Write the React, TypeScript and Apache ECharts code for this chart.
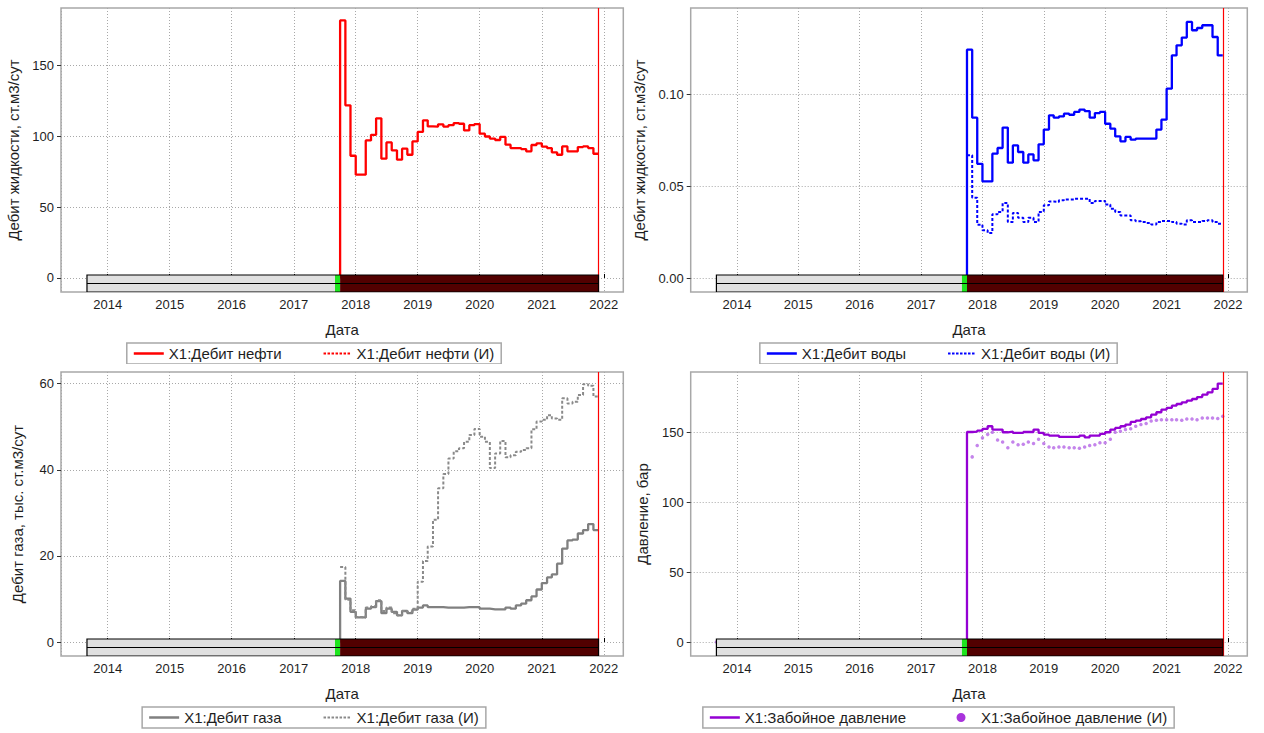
import React, { useEffect, useRef } from 'react';
import * as echarts from 'echarts';

// ---------- data ----------
const months = [
  '2017-10', '2017-11', '2017-12',
  '2018-01', '2018-02', '2018-03', '2018-04', '2018-05', '2018-06', '2018-07', '2018-08', '2018-09', '2018-10', '2018-11', '2018-12',
  '2019-01', '2019-02', '2019-03', '2019-04', '2019-05', '2019-06', '2019-07', '2019-08', '2019-09', '2019-10', '2019-11', '2019-12',
  '2020-01', '2020-02', '2020-03', '2020-04', '2020-05', '2020-06', '2020-07', '2020-08', '2020-09', '2020-10', '2020-11', '2020-12',
  '2021-01', '2021-02', '2021-03', '2021-04', '2021-05', '2021-06', '2021-07', '2021-08', '2021-09', '2021-10', '2021-11',
];
const endMonth = '2021-12';

const oilTicks = [0, 50, 100, 150];
const waterTicks = [0, 0.05, 0.1];
const gasTicks = [0, 20, 40, 60];
const bhpTicks = [0, 50, 100, 150];

const oilRate = [
  182, 122, 86.4,
  73, 73, 97.2, 101.2, 112.8, 84.3, 95.8, 90.2, 83.6, 91.4, 87.1, 96.5,
  103.2, 111.4, 107.1, 107, 108.6, 107, 108, 109.5, 109, 104.3, 108, 108.8,
  102, 100, 98.5, 97.5, 99.7, 94.2, 91.8, 91.8, 91.1, 89.5, 94, 95.2,
  92.9, 91.8, 88.8, 87.1, 93, 89.5, 89.5, 92.5, 93, 91.8, 87.8,
];
const oilRateHist: number[] = [];

const waterRate = [
  0.1243, 0.0873, 0.0622,
  0.0526, 0.0526, 0.0677, 0.0708, 0.0819, 0.0628, 0.0722, 0.0686, 0.0628, 0.0673, 0.0641, 0.0728,
  0.0808, 0.0886, 0.0873, 0.088, 0.0895, 0.0889, 0.0904, 0.0917, 0.0909, 0.0873, 0.0898, 0.0904,
  0.084, 0.0813, 0.0771, 0.0744, 0.0768, 0.0753, 0.0759, 0.0759, 0.0759, 0.0759, 0.0808, 0.0862,
  0.1031, 0.1212, 0.1267, 0.1309, 0.1394, 0.1349, 0.1361, 0.1376, 0.1376, 0.1312, 0.1212,
];
const waterRateHist = [
  0.0668, 0.0437, 0.029,
  0.026, 0.0245, 0.0347, 0.036, 0.0408, 0.0305, 0.0354, 0.0328, 0.0305, 0.0328, 0.0305, 0.036,
  0.0396, 0.0417, 0.0414, 0.0423, 0.0428, 0.0428, 0.0432, 0.0432, 0.0432, 0.0408, 0.0419, 0.0419,
  0.0401, 0.0377, 0.036, 0.0341, 0.0341, 0.0314, 0.0309, 0.0305, 0.03, 0.0292, 0.0305, 0.031,
  0.031, 0.0305, 0.0296, 0.0292, 0.0314, 0.0305, 0.0305, 0.031, 0.0314, 0.0305, 0.0296,
];

const gasRate = [
  14.2, 10.1, 7.0,
  5.7, 5.7, 7.75, 8.1, 9.5, 6.7, 7.75, 7.0, 6.2, 7.2, 6.7, 7.5,
  8.0, 8.5, 8.1, 8.1, 8.1, 8.0, 8.0, 8.0, 8.0, 8.1, 8.1, 8.1,
  7.75, 7.75, 7.6, 7.6, 7.6, 8.0, 7.75, 8.5, 8.9, 9.7, 10.6, 12.2,
  13.7, 15.0, 15.7, 18.2, 21.7, 23.6, 23.8, 25.2, 26.0, 27.4, 26.0,
];
const gasRateHist = [
  17.4, 9.8, 7.4,
  5.8, 5.7, 8.0, 8.3, 9.7, 7.2, 8.0, 6.7, 6.2, 7.2, 7.0, 7.75,
  14.0, 18.8, 22.2, 28.4, 35.7, 39.0, 42.6, 44.3, 45.0, 46.5, 48.1, 49.5,
  47.7, 46.5, 40.4, 43.8, 46.7, 42.9, 43.4, 44.2, 44.6, 45.0, 49.4, 51.2,
  51.6, 52.7, 51.9, 51.6, 56.6, 55.4, 55.8, 57.4, 59.9, 59.5, 57.0,
];

const bhp = [
  150.2, 150.5, 151.2,
  152.4, 154.3, 151.9, 151.9, 150, 150.5, 149.5, 149.5, 150.2, 150.2, 151.9, 149.5,
  148.3, 147.6, 147.6, 146.7, 146.7, 146.7, 146.7, 147.6, 146.4, 147.6, 147.6, 148.8,
  150, 151.9, 153.1, 154.3, 155.5, 157.4, 158.3, 159.5, 160.7, 162.6, 164.3, 166.2,
  167.4, 169, 170.2, 171.4, 172.6, 173.8, 175.2, 176.9, 178.6, 181, 184.8,
];
const bhpHistMonths = ['2013-09', ...months.slice(1), endMonth];
const bhpHist = [
  0,
  132.4, 140.5,
  146, 148.5, 150, 144.5, 143, 139, 143, 141, 141.5, 143, 142, 145,
  142, 139.5, 139, 139.5, 139.5, 139, 139, 138.5, 139.5, 140.5, 141, 142.5,
  142.5, 145, 150, 150.7, 152, 152.5, 154.3, 155.5, 156.2, 158, 158.6, 159,
  159, 159, 159, 158.6, 159.5, 159.5, 159, 160.2, 160.2, 160.2, 159.8, 161.4,
];

// timeline bar (history / start / forecast)
const timelineStart = ['2013-09-01', '2017-09-01', '2017-10-01'];
const timelineEnd = ['2017-09-01', '2017-10-01', '2021-12-01'];
const timelineFill = ['#e0e0e0', '#1ee61e', '#520000'];
const forecastDate = '2021-12-01';
const xMinDate = '2013-04-01';
const xMaxDate = '2022-04-26';

// ---------- helpers ----------
const FONT = 'Liberation Sans, Arial, sans-serif';
const TXT = '#1e1e1e';

// legend icons: a horizontal line (solid / dotted) inside a 30x14 box
const SPECKS = 'M0,0L0.01,0L0,0.01Z M30,14L29.99,14L30,13.99Z';
const ICON_SOLID = 'path://' + SPECKS + ' M0,5.7L30,5.7L30,8.3L0,8.3Z';
const ICON_DOTTED =
  'path://' + SPECKS +
  ' M2,5.9h2.5v2.2h-2.5Z M6,5.9h2.5v2.2h-2.5Z M10,5.9h2.5v2.2h-2.5Z M14,5.9h2.5v2.2h-2.5Z' +
  ' M18,5.9h2.5v2.2h-2.5Z M22,5.9h2.5v2.2h-2.5Z M26,5.9h2.5v2.2h-2.5Z';
const ICON_DOT = 'path://' + SPECKS + ' M19.5,7a4.5,4.5 0 1,0 -9,0a4.5,4.5 0 1,0 9,0Z';

const ts = (s: string) => {
  const p = s.split('-').map(Number);
  return new Date(p[0], p[1] - 1, p[2] || 1).getTime();
};

function stepData(vals: number[], withRise: boolean) {
  const d: any[] = [];
  if (!vals.length) return d;
  if (withRise) d.push([ts(months[0]), 0]);
  vals.forEach((v, i) => d.push([ts(months[i]), v]));
  d.push([ts(endMonth), vals[vals.length - 1]]);
  return d;
}

function timelineSeries() {
  const data: any[] = timelineStart.map((s, i) => [ts(s), ts(timelineEnd[i]), 0]);
  data.push([ts(timelineStart[0]), ts(timelineEnd[timelineEnd.length - 1]), 0]);
  const H = 17;
  return {
    type: 'custom',
    z: 10,
    silent: true,
    clip: true,
    encode: { x: [0, 1], y: 2 },
    data,
    renderItem: (params: any, api: any) => {
      const x0 = api.coord([api.value(0), 0])[0];
      const x1 = api.coord([api.value(1), 0])[0];
      const cs = params.coordSys;
      const bottom = cs.y + cs.height;
      const idx = params.dataIndex;
      if (idx < timelineFill.length) {
        return {
          type: 'rect',
          shape: { x: x0, y: bottom - H, width: x1 - x0, height: H },
          style: { fill: timelineFill[idx], stroke: null },
        };
      }
      return {
        type: 'group',
        children: [
          {
            type: 'rect',
            shape: { x: x0, y: bottom - H, width: x1 - x0, height: H },
            style: { fill: 'none', stroke: '#000', lineWidth: 1.2 },
          },
          {
            type: 'line',
            shape: { x1: x0, y1: bottom - H / 2, x2: x1, y2: bottom - H / 2 },
            style: { stroke: '#000', lineWidth: 1.2 },
          },
        ],
      };
    },
  };
}

const markLineRed = {
  silent: true,
  symbol: ['none', 'none'],
  label: { show: false },
  lineStyle: { color: '#ff0000', width: 1.2, type: 'solid' },
  data: [{ xAxis: ts(forecastDate) }],
};

interface PanelCfg {
  left: number;
  top: number;
  width: number;
  height: number;
  gridLeft: number;
  gridWidth: number;
  yMin: number;
  yMax: number;
  ySplit: number;
  yTicks: number[];
  yDec: number;
  yName: string;
  yNameGap: number;
  series: any[];
  legendData: any[];
}

function buildOption(c: PanelCfg) {
  const step = c.yTicks[1] - c.yTicks[0];
  return {
    animation: false,
    backgroundColor: '#fff',
    grid: {
      left: c.gridLeft,
      top: 8,
      width: c.gridWidth,
      height: 284,
      show: true,
      borderColor: '#a8a8a8',
      borderWidth: 1.5,
      backgroundColor: '#fff',
      outerBoundsMode: 'none',
    },
    legend: {
      left: 'center',
      top: 343,
      itemWidth: 30,
      itemHeight: 14,
      itemGap: 40,
      padding: [3, 7],
      borderColor: '#a8a8a8',
      borderWidth: 1.5,
      selectedMode: false,
      textStyle: { fontSize: 15, color: TXT, fontFamily: FONT },
      data: c.legendData,
    },
    xAxis: {
      type: 'time',
      min: ts(xMinDate),
      max: ts(xMaxDate),
      splitNumber: 9,
      name: 'Дата',
      nameLocation: 'middle',
      nameGap: 30,
      nameTextStyle: { fontSize: 15, color: TXT, fontFamily: FONT },
      axisLine: { show: false },
      axisTick: { show: true, inside: true, length: 4, lineStyle: { color: '#000' } },
      axisLabel: {
        margin: 6,
        fontSize: 13,
        color: TXT,
        fontFamily: FONT,
        formatter: (v: number) => {
          const d = new Date(v);
          return d.getMonth() === 0 && d.getDate() === 1 ? String(d.getFullYear()) : '';
        },
      },
      splitLine: { show: true, lineStyle: { type: [1, 2], color: '#a8a8a8', width: 1 } },
    },
    yAxis: {
      type: 'value',
      min: c.yMin,
      max: c.yMax,
      splitNumber: c.ySplit,
      name: c.yName,
      nameLocation: 'middle',
      nameGap: c.yNameGap,
      nameTextStyle: { fontSize: 15, color: TXT, fontFamily: FONT },
      axisLine: { show: false },
      axisTick: { show: true, inside: false, length: 4, lineStyle: { color: '#333' }, customValues: c.yTicks },
      axisLabel: {
        margin: 7,
        fontSize: 13,
        color: TXT,
        fontFamily: FONT,
        customValues: c.yTicks,
        formatter: (v: number) => {
          const r = v / step;
          return Math.abs(r - Math.round(r)) < 1e-6 ? v.toFixed(c.yDec) : '';
        },
      },
      splitLine: { show: true, lineStyle: { type: [1, 2], color: '#a8a8a8', width: 1 } },
    },
    series: [...c.series, timelineSeries()],
  };
}

function lineSeries(name: string, data: any[], color: string, dashed: boolean, withMark: boolean) {
  const s: any = {
    name,
    type: 'line',
    step: 'end',
    data,
    z: 3,
    symbol: 'none',
    showSymbol: false,
    lineStyle: { color, width: dashed ? 2 : 2.3, type: dashed ? [3, 2] : 'solid' },
    itemStyle: { color },
  };
  if (withMark) s.markLine = markLineRed;
  return s;
}

const legendLine = (name: string, dashed: boolean) => ({
  name,
  icon: dashed ? ICON_DOTTED : ICON_SOLID,
});

const panels: PanelCfg[] = [
  {
    left: 0, top: 0, width: 628, height: 366,
    gridLeft: 61, gridWidth: 562.3,
    yMin: -9.9, yMax: 190.8, ySplit: 4, yTicks: oilTicks, yDec: 0,
    yName: 'Дебит жидкости, ст.м3/сут', yNameGap: 35,
    series: [
      lineSeries('X1:Дебит нефти', stepData(oilRate, true), '#ff0000', false, true),
      lineSeries('X1:Дебит нефти (И)', stepData(oilRateHist, false), '#ff0000', true, false),
    ],
    legendData: [legendLine('X1:Дебит нефти', false), legendLine('X1:Дебит нефти (И)', true)],
  },
  {
    left: 628, top: 0, width: 621, height: 366,
    gridLeft: 62.7, gridWidth: 556.6,
    yMin: -0.0076, yMax: 0.147, ySplit: 3, yTicks: waterTicks, yDec: 2,
    yName: 'Дебит жидкости, ст.м3/сут', yNameGap: 41,
    series: [
      lineSeries('X1:Дебит воды', stepData(waterRate, true), '#0000ff', false, true),
      lineSeries('X1:Дебит воды (И)', stepData(waterRateHist, false), '#0000ff', true, false),
    ],
    legendData: [legendLine('X1:Дебит воды', false), legendLine('X1:Дебит воды (И)', true)],
  },
  {
    left: 0, top: 364, width: 628, height: 369,
    gridLeft: 61, gridWidth: 562.3,
    yMin: -3.25, yMax: 62.72, ySplit: 3, yTicks: gasTicks, yDec: 0,
    yName: 'Дебит газа, тыс. ст.м3/сут', yNameGap: 36,
    series: [
      lineSeries('X1:Дебит газа', stepData(gasRate, true), '#808080', false, true),
      lineSeries('X1:Дебит газа (И)', stepData(gasRateHist, false), '#8a8a8a', true, false),
    ],
    legendData: [legendLine('X1:Дебит газа', false), legendLine('X1:Дебит газа (И)', true)],
  },
  {
    left: 628, top: 364, width: 621, height: 369,
    gridLeft: 62.7, gridWidth: 556.6,
    yMin: -10, yMax: 193.1, ySplit: 4, yTicks: bhpTicks, yDec: 0,
    yName: 'Давление, бар', yNameGap: 41,
    series: [
      lineSeries('X1:Забойное давление', stepData(bhp, true), '#9400d3', false, true),
      {
        name: 'X1:Забойное давление (И)',
        type: 'scatter',
        z: 4,
        symbol: 'circle',
        symbolSize: 3.5,
        data: bhpHistMonths.map((m, i) => [ts(m), bhpHist[i]]),
        itemStyle: { color: '#b565e6' },
      },
    ],
    legendData: [
      legendLine('X1:Забойное давление', false),
      { name: 'X1:Забойное давление (И)', icon: ICON_DOT, itemStyle: { color: '#9400d3' } },
    ],
  },
];

function Panel({ cfg }: { cfg: PanelCfg }) {
  const ref = useRef<HTMLDivElement>(null);
  useEffect(() => {
    const chart = echarts.init(ref.current as HTMLDivElement, null, { renderer: 'svg' });
    chart.setOption(buildOption(cfg) as any);
    return () => chart.dispose();
  }, []);
  return (
    <div
      ref={ref}
      style={{ position: 'absolute', left: cfg.left, top: cfg.top, width: cfg.width, height: cfg.height }}
    />
  );
}

export default function App() {
  return (
    <div style={{ position: 'absolute', left: 0, top: 0, width: 1264, height: 733, background: '#fff' }}>
      {panels.map((p, i) => (
        <Panel key={i} cfg={p} />
      ))}
    </div>
  );
}
